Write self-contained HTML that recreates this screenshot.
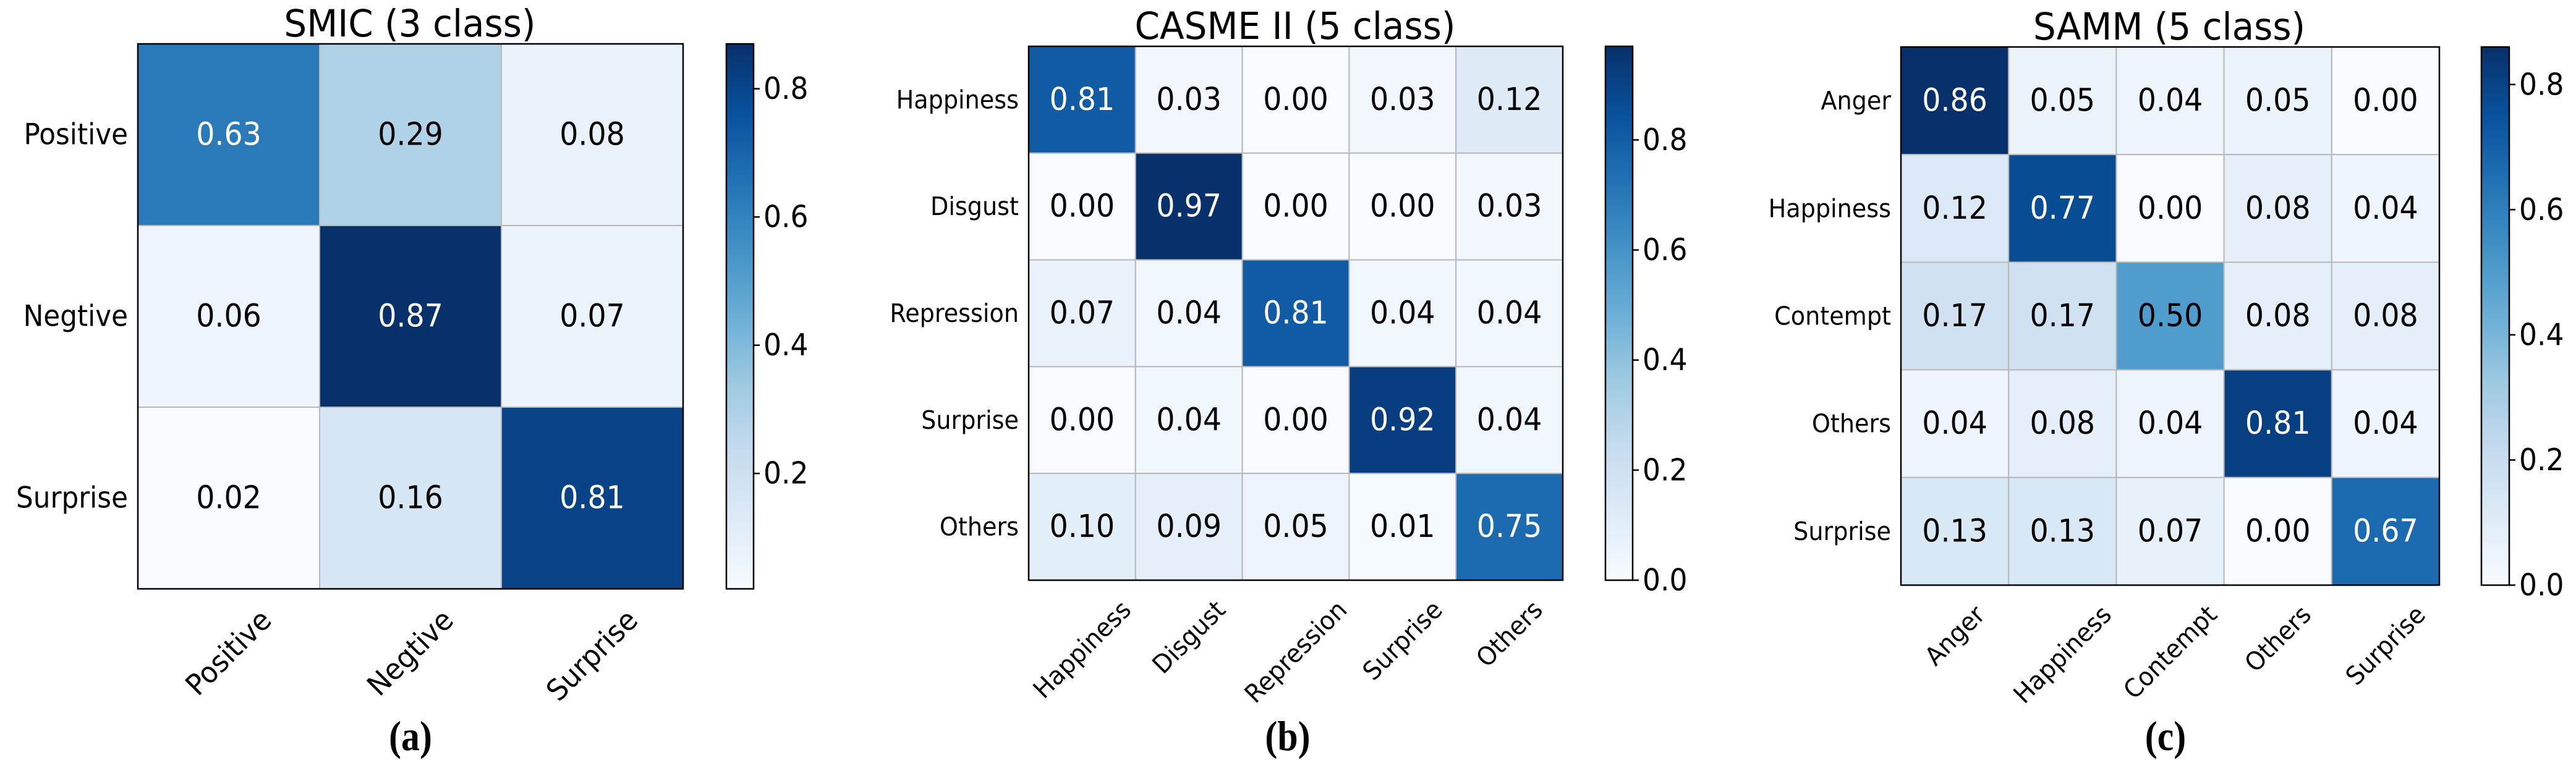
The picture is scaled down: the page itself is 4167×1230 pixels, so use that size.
<!DOCTYPE html>
<html><head><meta charset="utf-8">
<style>
html,body{margin:0;padding:0;background:#fff;}
svg{display:block;}
text{font-family:"DejaVu Sans","Liberation Sans",sans-serif;}
.cap{font-family:"Liberation Serif",serif;font-weight:bold;}
</style></head>
<body>
<svg id="fig" width="4167" height="1230" viewBox="0 0 4167 1230" xmlns="http://www.w3.org/2000/svg"></svg>
<script>
// ---- Data ----
const smicLabels = ["Positive","Negtive","Surprise"];
const smicValues = [[0.63,0.29,0.08],[0.06,0.87,0.07],[0.02,0.16,0.81]];
const casmeLabels = ["Happiness","Disgust","Repression","Surprise","Others"];
const casmeValues = [[0.81,0.03,0.00,0.03,0.12],[0.00,0.97,0.00,0.00,0.03],[0.07,0.04,0.81,0.04,0.04],[0.00,0.04,0.00,0.92,0.04],[0.10,0.09,0.05,0.01,0.75]];
const sammLabels = ["Anger","Happiness","Contempt","Others","Surprise"];
const sammValues = [[0.86,0.05,0.04,0.05,0.00],[0.12,0.77,0.00,0.08,0.04],[0.17,0.17,0.50,0.08,0.08],[0.04,0.08,0.04,0.81,0.04],[0.13,0.13,0.07,0.00,0.67]];
const smicTicks = ["0.2","0.4","0.6","0.8"];
const casmeTicks = ["0.0","0.2","0.4","0.6","0.8"];
const sammTicks = ["0.0","0.2","0.4","0.6","0.8"];
const titles = ["SMIC (3 class)","CASME II (5 class)","SAMM (5 class)"];
const captions = ["(a)","(b)","(c)"];

const NS="http://www.w3.org/2000/svg";
const svg=document.getElementById('fig');
const stops=["#f7fbff","#deebf7","#c6dbef","#9ecae1","#6baed6","#4292c6","#2171b5","#08519c","#08306b"];
function hex(c){return [1,3,5].map(i=>parseInt(c.substr(i,2),16));}
function blues(t){t=Math.max(0,Math.min(1,t));const p=t*8,i=Math.min(7,Math.floor(p)),f=p-i;const a=hex(stops[i]),b=hex(stops[i+1]);return "rgb("+a.map((v,k)=>Math.round(v+(b[k]-v)*f)).join(",")+")";}
function mk(tag,attrs,parent){const e=document.createElementNS(NS,tag);for(const k in attrs)e.setAttribute(k,attrs[k]);(parent||svg).appendChild(e);return e;}
function squeeze(t,f){const w=t.getComputedTextLength();t.setAttribute('textLength',w*f);t.setAttribute('lengthAdjust','spacingAndGlyphs');return w*f;}

const panels=[
 {labels:smicLabels,values:smicValues,ticks:smicTicks,x:223,y:71,size:882,cbx:1175,cbw:44,yfont:47,xfont:47,cellFont:51,tx:663,cx:664,name:'smic'},
 {labels:casmeLabels,values:casmeValues,ticks:casmeTicks,x:1664,y:75,size:864,cbx:2597,cbw:44,yfont:41,xfont:41,cellFont:51,tx:2095,cx:2083,name:'casme'},
 {labels:sammLabels,values:sammValues,ticks:sammTicks,x:3075,y:76,size:871,cbx:4014,cbw:45,yfont:41,xfont:41,cellFont:51,tx:3509,cx:3503,name:'samm'}
];

panels.forEach((P,pi)=>{
 const g=mk('g',{});
 
 
 const n=P.labels.length, cs=P.size/n;
 let flat=P.values.flat(); const vmin=Math.min(...flat), vmax=Math.max(...flat);
 const col=v=>blues((v-vmin)/(vmax-vmin));
 P.values.forEach((row,r)=>row.forEach((v,c)=>{
  const rc=mk('rect',{x:P.x+c*cs,y:P.y+r*cs,width:cs,height:cs,fill:col(v),stroke:'#b8b8b8','stroke-width':2},g);
  
  
 }));
 P.values.forEach((row,r)=>row.forEach((v,c)=>{
  const t=mk('text',{x:P.x+(c+0.5)*cs,y:P.y+(r+0.5)*cs,'text-anchor':'middle','dominant-baseline':'central','font-size':P.cellFont,fill:v>0.6*vmax?'#fff':'#000'},g);
  t.textContent=v.toFixed(2);
  
  
  squeeze(t,0.93);
 }));
 const fr=mk('rect',{x:P.x,y:P.y,width:P.size,height:P.size,fill:'none',stroke:'#000','stroke-width':2.5},g);
 
 
 P.labels.forEach((l,i)=>{
  const t=mk('text',{x:P.x-16,y:P.y+(i+0.5)*cs,'text-anchor':'end','dominant-baseline':'central','font-size':P.yfont},g);
  t.textContent=l;
  
  
  squeeze(t,0.93);
 });
 P.labels.forEach((l,i)=>{
  const t=mk('text',{'text-anchor':'middle','dominant-baseline':'central','font-size':P.xfont},g);
  t.textContent=l;
  
  
  const w=squeeze(t,0.95), h=P.xfont*1.0;
  const cx=P.x+(i+0.5)*cs, cy=P.y+P.size+26+(w+h)*0.7071/2;
  t.setAttribute('x',cx);t.setAttribute('y',cy);
  t.setAttribute('transform','rotate(-45 '+cx+' '+cy+')');
 });
 const gid='grad'+pi;
 const defs=mk('defs',{},g);
 const lg=mk('linearGradient',{id:gid,x1:0,y1:1,x2:0,y2:0},defs);
 for(let k=0;k<=8;k++)mk('stop',{offset:k/8,'stop-color':stops[k]},lg);
 const cb=mk('rect',{x:P.cbx,y:P.y,width:P.cbw,height:P.size,fill:'url(#'+gid+')',stroke:'#000','stroke-width':2.5},g);
 
 
 const cy=v=>P.y+P.size-(v-vmin)/(vmax-vmin)*P.size;
 P.ticks.forEach(tk=>{
  const v=parseFloat(tk), yy=cy(v);
  mk('line',{x1:P.cbx+P.cbw,x2:P.cbx+P.cbw+10,y1:yy,y2:yy,stroke:'#000','stroke-width':2.5},g);
  const t=mk('text',{x:P.cbx+P.cbw+16,y:yy,'dominant-baseline':'central','font-size':49},g);
  t.textContent=tk;
  
  
  squeeze(t,0.93);
 });
 const tt=mk('text',{x:P.tx,y:P.y-12,'text-anchor':'middle','font-size':61},g);
 tt.textContent=titles[pi];
 
 
 squeeze(tt,0.95);
 const cap=mk('text',{x:P.cx,y:1214,'text-anchor':'middle','font-size':68,'class':'cap'},g);
 cap.textContent=captions[pi];
 
 
 squeeze(cap,0.88);
});
</script>
</body></html>
